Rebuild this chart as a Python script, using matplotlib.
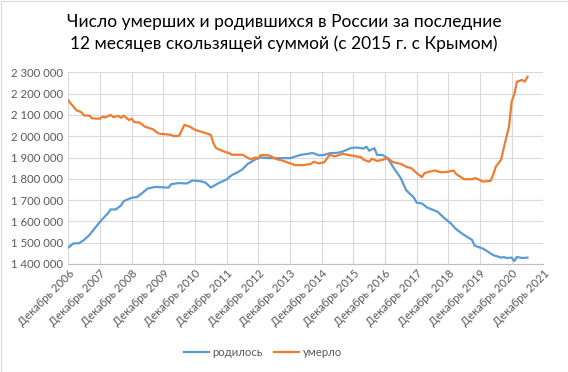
import matplotlib
matplotlib.use("Agg")
import matplotlib.pyplot as plt
from matplotlib.patches import Rectangle

plt.rcParams['font.family'] = ['Lato', 'DejaVu Sans']

# months since December 2006
months_died = [0, 3, 5, 6, 8, 9, 12, 13, 14, 16, 17, 19, 20, 21, 22, 23, 24, 25, 27, 29,
               32, 34, 35, 37, 39, 40, 42, 44, 46, 48, 50, 52, 54, 55, 56, 59, 61, 62, 66,
               69, 71, 72, 73, 76, 79, 81, 84, 86, 89, 92, 93, 95, 97, 99, 101, 104, 108,
               111, 112, 114, 115, 117, 119, 121, 123, 126, 128, 130, 132, 134, 135, 137,
               139, 141, 143, 146, 147, 150, 153, 154, 155, 157, 160, 161, 162, 164, 165,
               167, 168, 169, 170, 172, 173, 174]
died = [2167, 2123, 2112, 2097, 2097, 2084, 2082, 2092, 2088, 2100, 2090, 2095, 2086, 2097,
        2086, 2076, 2082, 2066, 2064, 2045, 2033, 2014, 2011, 2009, 2006, 2000, 2002, 2053,
        2045, 2030, 2022, 2015, 2006, 1967, 1944, 1928, 1920, 1913, 1913, 1892, 1900, 1897,
        1912, 1910, 1892, 1886, 1873, 1864, 1864, 1870, 1880, 1872, 1878, 1912, 1905, 1917,
        1908, 1901, 1889, 1880, 1894, 1884, 1889, 1897, 1878, 1870, 1857, 1850, 1827, 1808,
        1827, 1834, 1839, 1831, 1831, 1839, 1822, 1798, 1798, 1803, 1800, 1787, 1790, 1819,
        1857, 1889, 1944, 2045, 2162, 2197, 2256, 2264, 2256, 2279]

months_born = [0, 2, 4, 6, 8, 10, 12, 14, 15, 16, 18, 20, 21, 24, 26, 28, 30, 33, 37, 38,
               39, 42, 45, 47, 50, 52, 54, 57, 60, 62, 64, 66, 68, 69, 71, 73, 76, 81, 84,
               88, 92, 93, 95, 97, 99, 102, 104, 107, 109, 112, 113, 114, 116, 117, 119, 121,
               123, 126, 128, 131, 132, 134, 136, 140, 142, 145, 147, 150, 153, 154, 157, 159,
               161, 164, 165, 166, 168, 169, 170, 172, 174]
born = [1478, 1497, 1497, 1513, 1536, 1567, 1598, 1625, 1637, 1656, 1656, 1675, 1695, 1711,
        1714, 1733, 1754, 1762, 1759, 1759, 1775, 1780, 1778, 1792, 1789, 1782, 1759, 1780,
        1797, 1818, 1829, 1845, 1870, 1877, 1892, 1900, 1897, 1897, 1897, 1912, 1920, 1920,
        1910, 1912, 1920, 1922, 1928, 1944, 1947, 1942, 1951, 1932, 1944, 1912, 1912, 1897,
        1857, 1803, 1747, 1711, 1688, 1684, 1665, 1645, 1621, 1590, 1563, 1536, 1513, 1486,
        1473, 1458, 1442, 1430, 1433, 1428, 1430, 1414, 1433, 1428, 1430]

tick_months = list(range(0, 181, 12))
tick_labels = ["Декабрь %d" % y for y in range(2006, 2022)]
y_ticks = list(range(1400000, 2300001, 100000))

title = "Число умерших и родившихся в России за последние\n12 месяцев скользящей суммой (с 2015 г. с Крымом)"

fig = plt.figure(figsize=(5.68, 3.72), dpi=100)
ax = fig.add_axes([68.3 / 568, 1 - 264 / 372, (543.3 - 68.3) / 568, (264 - 72.3) / 372])

ax.plot(months_born, [v * 1000 for v in born], color='#5B9BD5', lw=1.6, label='родилось')
ax.plot(months_died, [v * 1000 for v in died], color='#ED7D31', lw=1.6, label='умерло')

ax.set_xlim(0, 180)
ax.set_ylim(1400000, 2300000)
ax.set_xticks(tick_months)
ax.set_xticklabels(tick_labels, rotation=45, ha='right', rotation_mode='anchor',
                   fontsize=8.2, color='#595959')
ax.set_yticks(y_ticks)
ax.set_yticklabels(["{:,}".format(v).replace(",", " ") for v in y_ticks],
                   fontsize=8.2, color='#595959')
ax.tick_params(axis='both', length=0, pad=4)
ax.tick_params(axis='x', pad=3)
ax.grid(True, color='#D9D9D9', lw=0.8)
ax.set_axisbelow(True)
for s in ['top', 'right', 'left']:
    ax.spines[s].set_visible(False)
ax.spines['bottom'].set_color('#BFBFBF')
ax.spines['bottom'].set_linewidth(0.8)

fig.text(0.5, 1 - 33 / 372, title, ha='center', va='center', fontsize=12.5,
         color='#000000', linespacing=1.35)

fig.legend(loc='center', bbox_to_anchor=(263 / 568, 1 - 352 / 372), ncol=2, frameon=False,
           fontsize=8.2, labelcolor='#595959', handlelength=2.2, columnspacing=1.0,
           handletextpad=0.3)

fig.patches.append(Rectangle((0.5 / 568, 0.5 / 372), 1 - 1 / 568, 1 - 1 / 372,
                             transform=fig.transFigure, fill=False,
                             edgecolor='#D9D9D9', lw=0.8))

fig.savefig('out.png', dpi=100)
